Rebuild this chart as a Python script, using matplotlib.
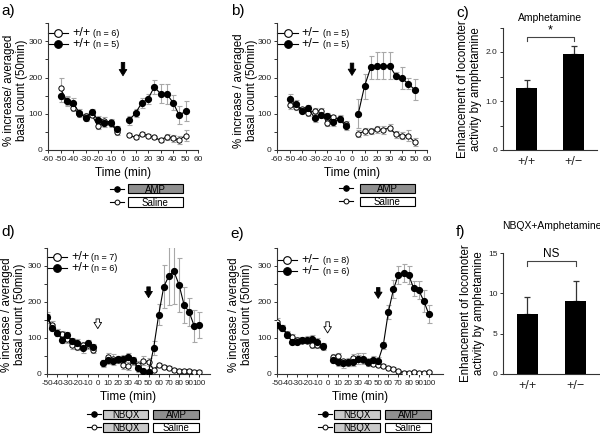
import matplotlib
matplotlib.use("Agg")
import matplotlib.pyplot as plt
from matplotlib.lines import Line2D
from matplotlib.patches import Rectangle
import numpy as np

plt.rcParams['font.family'] = ['Liberation Sans', 'DejaVu Sans']

# ---------------- data ----------------
t_pre = [-50, -45, -40, -35, -30, -25, -20, -15, -10, -5]
t_post_ab = [5, 10, 15, 20, 25, 30, 35, 40, 45, 50]
t_post_de = [5, 10, 15, 20, 25, 30, 35, 40, 45, 50, 55, 60, 65, 70, 75, 80, 85, 90, 95, 100]

a_filled_pre = [150, 136, 131, 103, 89, 104, 84, 74, 74, 58]
a_filled_pre_err = [18, 14, 12, 10, 8, 10, 10, 10, 10, 8]
a_filled_post = [82, 102, 130, 141, 174, 156, 155, 131, 96, 107]
a_filled_post_err = [12, 12, 15, 15, 18, 25, 28, 20, 25, 28]
a_open_pre = [170, 135, 117, 100, 95, 98, 65, 80, 78, 50]
a_open_pre_err = [28, 12, 10, 8, 8, 8, 8, 10, 8, 8]
a_open_post = [41, 35, 45, 40, 35, 27, 37, 32, 28, 40]
a_open_post_err = [5, 5, 5, 5, 5, 5, 8, 10, 12, 15]

b_filled_pre = [141, 128, 109, 117, 88, 98, 93, 77, 87, 65]
b_filled_pre_err = [15, 10, 8, 8, 10, 10, 10, 10, 10, 10]
b_filled_post = [100, 176, 228, 233, 233, 233, 205, 198, 183, 167]
b_filled_post_err = [40, 35, 32, 38, 38, 38, 10, 30, 15, 30]
b_open_pre = [123, 118, 112, 103, 108, 107, 75, 90, 85, 73]
b_open_pre_err = [10, 8, 8, 8, 8, 8, 8, 8, 8, 8]
b_open_post = [45, 52, 52, 57, 55, 62, 43, 40, 40, 22]
b_open_post_err = [10, 10, 8, 10, 10, 10, 10, 10, 15, 10]

d_filled_pre = [158, 129, 115, 95, 108, 91, 86, 71, 85, 74]
d_filled_pre_err = [15, 10, 10, 10, 10, 10, 12, 12, 10, 10]
d_filled_post = [30, 38, 36, 41, 42, 48, 38, 16, 7, 5, 72, 165, 243, 272, 285, 248, 192, 172, 133, 136]
d_filled_post_err = [8, 10, 10, 10, 10, 10, 10, 10, 5, 5, 20, 30, 60, 80, 90, 75, 50, 40, 45, 35]
d_open_pre = [155, 136, 115, 110, 97, 80, 76, 80, 80, 67]
d_open_pre_err = [12, 10, 10, 10, 10, 10, 10, 10, 10, 10]
d_open_post = [30, 47, 43, 40, 25, 22, 35, 25, 37, 33, 12, 25, 20, 18, 12, 8, 8, 8, 5, 6]
d_open_post_err = [10, 12, 12, 10, 10, 10, 10, 10, 12, 12, 5, 5, 5, 5, 5, 5, 5, 5, 5, 5]

e_filled_pre = [136, 129, 108, 90, 90, 95, 95, 98, 89, 77]
e_filled_pre_err = [10, 8, 8, 8, 8, 8, 10, 10, 10, 8]
e_filled_post = [38, 33, 30, 33, 33, 43, 43, 33, 39, 37, 80, 172, 235, 276, 280, 276, 238, 233, 203, 166]
e_filled_post_err = [8, 10, 12, 12, 12, 15, 15, 12, 10, 10, 10, 20, 25, 25, 25, 25, 20, 25, 30, 25]
e_open_pre = [145, 128, 112, 104, 95, 93, 93, 81, 80, 75]
e_open_pre_err = [10, 8, 8, 8, 8, 8, 8, 8, 8, 8]
e_open_post = [48, 50, 35, 30, 45, 42, 38, 30, 28, 25, 22, 17, 14, 8, 4, 3, 6, 2, 4, 5]
e_open_post_err = [8, 8, 8, 8, 10, 10, 8, 8, 5, 5, 5, 5, 5, 3, 3, 3, 3, 3, 3, 3]

genotypes = ['+/+', '+/\u2212']
c_values = [1.27, 1.95]
c_errors = [0.15, 0.17]
f_values = [7.5, 9.05]
f_errors = [2.0, 2.5]

# ---------------- layout helpers ----------------
W, H = 600, 434
fig = plt.figure(figsize=(6.0, 4.34), dpi=100)


def ax_px(l, t, r, b):
    return fig.add_axes([l / W, 1 - b / H, (r - l) / W, (b - t) / H])


ERR_C = '#a8a8a8'


def style(ax):
    for s in ['top', 'right']:
        ax.spines[s].set_visible(False)
    for s in ['left', 'bottom']:
        ax.spines[s].set_linewidth(0.8)
        ax.spines[s].set_color('#333333')
    ax.tick_params(labelsize=6, length=2.5, width=0.7, pad=1.5, colors='#333333')
    ax.tick_params(axis='both', labelcolor='#222222')


def series(ax, x, y, err, filled):
    ax.errorbar(x, y, yerr=err, fmt='none', ecolor=ERR_C, elinewidth=0.8,
                capsize=1.8, capthick=0.8, zorder=2)
    if filled:
        ax.plot(x, y, '-', color='k', lw=0.8, marker='o', ms=4.2,
                mfc='k', mec='k', zorder=4)
    else:
        ax.plot(x, y, '-', color='k', lw=0.8, marker='o', ms=3.8,
                mfc='white', mec='k', mew=0.7, zorder=3)


def legend(ax, lbl, n_open, n_filled, hx1, xl, xn, rows):
    for (y, filled, n) in zip(rows, [False, True], [n_open, n_filled]):
        ln = Line2D([0.0, hx1 / 2, hx1], [y, y, y], transform=ax.transAxes, color='k', lw=0.8,
                    marker='o', markevery=[1], ms=5.5, mfc='k' if filled else 'white',
                    mec='k', mew=0.8, clip_on=False)
        ax.add_artist(ln)
        ax.text(xl, y, lbl, transform=ax.transAxes, fontsize=9, va='center', ha='left')
        ax.text(xn, y - 0.005, '(n = %d)' % n, transform=ax.transAxes,
                fontsize=6.5, va='center', ha='left')


def arrow(ax, x, y_tail, y_tip, filled):
    ax.annotate('', xy=(x, y_tip), xytext=(x, y_tail),
                arrowprops=dict(arrowstyle='simple,head_length=0.45,head_width=0.55,tail_width=0.25',
                                fc='k' if filled else 'white', ec='k', lw=0.6,
                                shrinkA=0, shrinkB=0), zorder=5)


def time_panel(ax, xlim, xticks, fp, fpe, fq, fqe, op, ope, oq, oqe, tpost, ylab, lab_x):
    style(ax)
    series(ax, t_pre, op, ope, False)
    series(ax, tpost, oq, oqe, False)
    series(ax, t_pre, fp, fpe, True)
    series(ax, tpost, fq, fqe, True)
    ax.set_xlim(*xlim)
    ax.set_ylim(0, 350)
    ax.set_xticks(xticks)
    ax.set_xticklabels([str(v) for v in xticks])
    ax.set_yticks(np.arange(0, 351, 50))
    ax.set_yticklabels(['0', '', '100', '', '200', '', '300', ''])
    ax.set_xlabel('Time (min)', fontsize=8.5, labelpad=3)
    ax.set_ylabel(ylab, fontsize=8.3, linespacing=1.1)
    ax.yaxis.set_label_coords(lab_x, 0.47)


ylab1 = '% increase/ averaged\nbasal count (50min)'
ylab2 = '% increase / averaged\nbasal count (50min)'

# a
axa = ax_px(48, 23.3, 198, 150)
time_panel(axa, (-60, 60), list(range(-60, 61, 10)), a_filled_pre, a_filled_pre_err,
           a_filled_post, a_filled_post_err, a_open_pre, a_open_pre_err,
           a_open_post, a_open_post_err, t_post_ab, ylab1, -0.135)
arrow(axa, 0, 242, 205, True)
legend(axa, '+/+', 6, 5, 0.136, 0.165, 0.30, [0.927, 0.837])

# b
axb = ax_px(277, 23.3, 427, 150)
time_panel(axb, (-60, 60), list(range(-60, 61, 10)), b_filled_pre, b_filled_pre_err,
           b_filled_post, b_filled_post_err, b_open_pre, b_open_pre_err,
           b_open_post, b_open_post_err, t_post_ab, ylab2, -0.13)
arrow(axb, 0, 240, 206, True)
legend(axb, '+/\u2212', 5, 5, 0.14, 0.165, 0.305, [0.921, 0.834])

# d
axd = ax_px(47, 248, 210, 374)
time_panel(axd, (-50, 110.5), list(range(-50, 101, 10)), d_filled_pre, d_filled_pre_err,
           d_filled_post, d_filled_post_err, d_open_pre, d_open_pre_err,
           d_open_post, d_open_post_err, t_post_de, ylab2, -0.13)
axd.tick_params(axis='x', labelsize=5.8, pad=1.5)
arrow(axd, 50, 242, 212, True)
arrow(axd, 0, 153, 126, False)
legend(axd, '+/+', 7, 6, 0.125, 0.15, 0.27, [0.929, 0.841])

# e
axe = ax_px(277, 248, 443, 374)
time_panel(axe, (-50, 114), list(range(-50, 101, 10)), e_filled_pre, e_filled_pre_err,
           e_filled_post, e_filled_post_err, e_open_pre, e_open_pre_err,
           e_open_post, e_open_post_err, t_post_de, ylab2, -0.145)
axe.tick_params(axis='x', labelsize=5.8, pad=1.5)
arrow(axe, 50, 240, 210, True)
arrow(axe, 0, 145, 114, False)
legend(axe, '+/\u2212', 8, 6, 0.122, 0.148, 0.277, [0.905, 0.817])


# bar panels
def bar_panel(ax, vals, errs, ylim, yticks, yticklabels, title, title_pad, sig, br_y, br_drop,
              sig_fs, lab_x):
    style(ax)
    x = np.arange(len(vals))
    ax.bar(x, vals, width=0.43, color='k', zorder=3)
    ax.errorbar(x, vals, yerr=[[0] * len(vals), errs], fmt='none', ecolor='#333333',
                elinewidth=0.9, capsize=2.2, capthick=0.9, zorder=2)
    ax.set_xlim(-0.5, 1.5)
    ax.set_ylim(*ylim)
    ax.set_yticks(yticks)
    ax.set_yticklabels(yticklabels)
    ax.set_xticks(x)
    ax.set_xticklabels(genotypes, fontsize=9)
    ax.tick_params(axis='x', length=0, pad=4)
    ax.set_ylabel('Enhancement of locomoter\nactivity by amphetamine', fontsize=8.3,
                  linespacing=1.1)
    ax.yaxis.set_label_coords(lab_x, 0.5)
    ax.set_title(title, fontsize=7.5, pad=title_pad)
    ax.plot([x[0], x[0], x[1], x[1]], [br_y - br_drop, br_y, br_y, br_y - br_drop],
            color='#444444', lw=0.8, clip_on=False)
    ax.text((x[0] + x[1]) / 2, br_y + br_drop * 0.3, sig, ha='center', va='bottom',
            fontsize=sig_fs)


axc = ax_px(503, 27.5, 597, 150)
bar_panel(axc, c_values, c_errors, (0, 2.5), np.arange(0, 2.51, 0.5),
          ['0', '', '1.0', '', '2.0', ''], 'Amphetamine', 5, '*', 2.3, 0.08, 9, -0.22)

axf = ax_px(503, 253, 600, 374)
bar_panel(axf, f_values, f_errors, (0, 15), [0, 5, 10, 15],
          ['0', '5', '10', '15'], 'NBQX+Amphetamine', 17, 'NS', 14.0, 0.6, 8.5, -0.19)

# panel labels
for lbl, x, y in [('a)', 1, 11), ('b)', 231, 11), ('c)', 456, 13),
                  ('d)', 1, 232), ('e)', 230, 234), ('f)', 456, 232)]:
    fig.text(x / W, 1 - y / H, lbl, fontsize=11, va='center', ha='left')


# treatment boxes
def treat_row(y_top, y_bot, hx0, hx1, filled, boxes):
    yc = (y_top + y_bot) / 2
    ln = Line2D([hx0 / W, (hx0 + hx1) / 2 / W, hx1 / W], [1 - yc / H] * 3, transform=fig.transFigure,
                color='k', lw=0.8, marker='o', markevery=[1],
                ms=4 if filled else 3.5, mfc='k' if filled else 'white', mec='k', mew=0.7)
    fig.add_artist(ln)
    for (x0, x1, txt, col) in boxes:
        r = Rectangle((x0 / W, 1 - y_bot / H), (x1 - x0) / W, (y_bot - y_top) / H,
                      transform=fig.transFigure, fc=col, ec='k', lw=0.8)
        fig.add_artist(r)
        fig.text((x0 + x1) / 2 / W, 1 - yc / H - 0.002, txt, ha='center', va='center', fontsize=7)


AMP_C = '#8f8f8f'
NBQX_C = '#c9c9c9'
treat_row(184, 193.3, 110, 124, True, [(128, 183, 'AMP', AMP_C)])
treat_row(197.3, 206.5, 110, 124, False, [(128, 183, 'Saline', 'white')])
treat_row(183.5, 192.8, 339, 353, True, [(360, 415, 'AMP', AMP_C)])
treat_row(196.8, 206, 339, 353, False, [(360, 415, 'Saline', 'white')])
treat_row(409.5, 419, 87, 101, True, [(102.7, 148.3, 'NBQX', NBQX_C), (152.7, 199.3, 'AMP', AMP_C)])
treat_row(422.7, 432, 87, 101, False, [(102.7, 148.3, 'NBQX', NBQX_C), (152.7, 199.3, 'Saline', 'white')])
treat_row(409.5, 419, 318, 332, True, [(334, 380, 'NBQX', NBQX_C), (385, 431, 'AMP', AMP_C)])
treat_row(422.7, 432, 318, 332, False, [(334, 380, 'NBQX', NBQX_C), (385, 431, 'Saline', 'white')])

fig.savefig('out.png', dpi=100)
